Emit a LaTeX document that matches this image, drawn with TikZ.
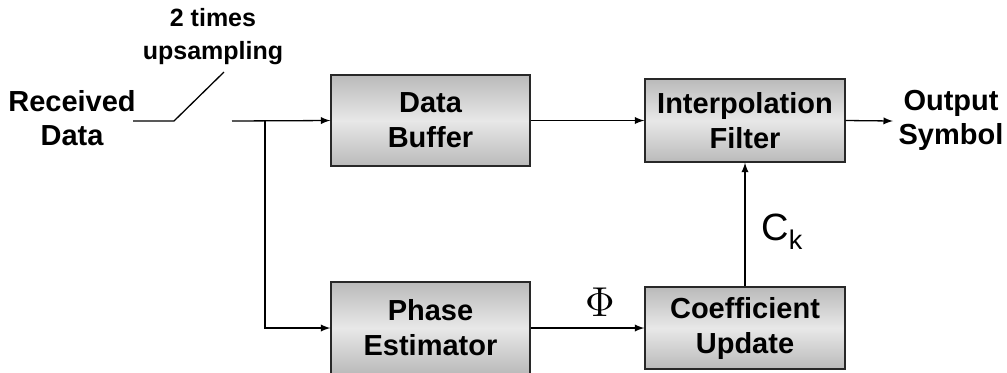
\documentclass[tikz,border=0pt]{standalone}
\usepackage{fontspec}
\setmainfont{Liberation Sans}
\usepackage{tikz}
\usetikzlibrary{arrows}
\definecolor{boxdark}{RGB}{186, 186, 186}
\definecolor{boxlight}{RGB}{232, 232, 232}
\definecolor{boxline}{RGB}{40, 40, 40}

\tikzset{
  block/.style={draw=boxline, line width=0.65pt, top color=boxdark, bottom color=boxdark,
                middle color=boxlight, align=center, inner sep=0pt,
                font=\fontsize{14.5}{17.5}\selectfont\bfseries},
  label/.style={align=center, font=\fontsize{14.5}{17}\selectfont\bfseries},
  wire/.style={line width=0.65pt},
  flow/.style={line width=0.65pt, -latex}
}

\begin{document}
\begin{tikzpicture}[x=0.5pt, y=-0.5pt]
            \useasboundingbox (0,0) rectangle (1007,372);
            \node[block, minimum width=99.5pt, minimum height=45.5pt] (buffer) at (430.5,120.5) {Data\\Buffer};
            \node[block, minimum width=100pt,  minimum height=41.5pt] (interp) at (745.0,120.5) {Interpolation\\Filter};
            \node[block, minimum width=99.5pt, minimum height=46pt]   (phase)  at (430.5,328.0) {Phase\\Estimator};
            \node[block, minimum width=100pt,  minimum height=41pt]   (coeff)  at (745.0,328.0) {Coefficient\\Update};
            \node[label] (received) at (72,118)  {Received\\Data};
            \node[label] (output)   at (951,120) {Output\\Symbol};
            \node[label, font=\fontsize{12.5}{16.5}\selectfont\bfseries] (upsamp) at (213,37) {2 times\\upsampling};
            \node[font=\fontsize{14.5}{17}\selectfont, scale=1.45] (phi) at (600,302) {$\Phi$};
            \node[font=\fontsize{19}{20}\selectfont] (ck) at (782,232) {C\raisebox{-4.5pt}{\fontsize{13.5}{14}\selectfont k}};
            \coordinate (rxend) at (133,121);
            \coordinate (swlow) at (174,121);
            \coordinate (swtop) at (224,72);
            \coordinate (swout) at (232,121);
            \coordinate (split) at (265,121);
            \coordinate (sdown) at (265,328);
            \coordinate (outend) at (893,121);
            \draw[wire] (rxend) -- (swlow) -- (swtop);
            \draw[flow] (swout) -- (buffer.west);
            \draw[flow] (split) -- (sdown) -- (phase.west);
            \draw[flow] (buffer.east) -- (interp.west);
            \draw[flow] (phase.east) -- (coeff.west);
            \draw[flow] (coeff.north) -- (interp.south);
            \draw[flow] (interp.east) -- (outend);
\end{tikzpicture}
\end{document}
